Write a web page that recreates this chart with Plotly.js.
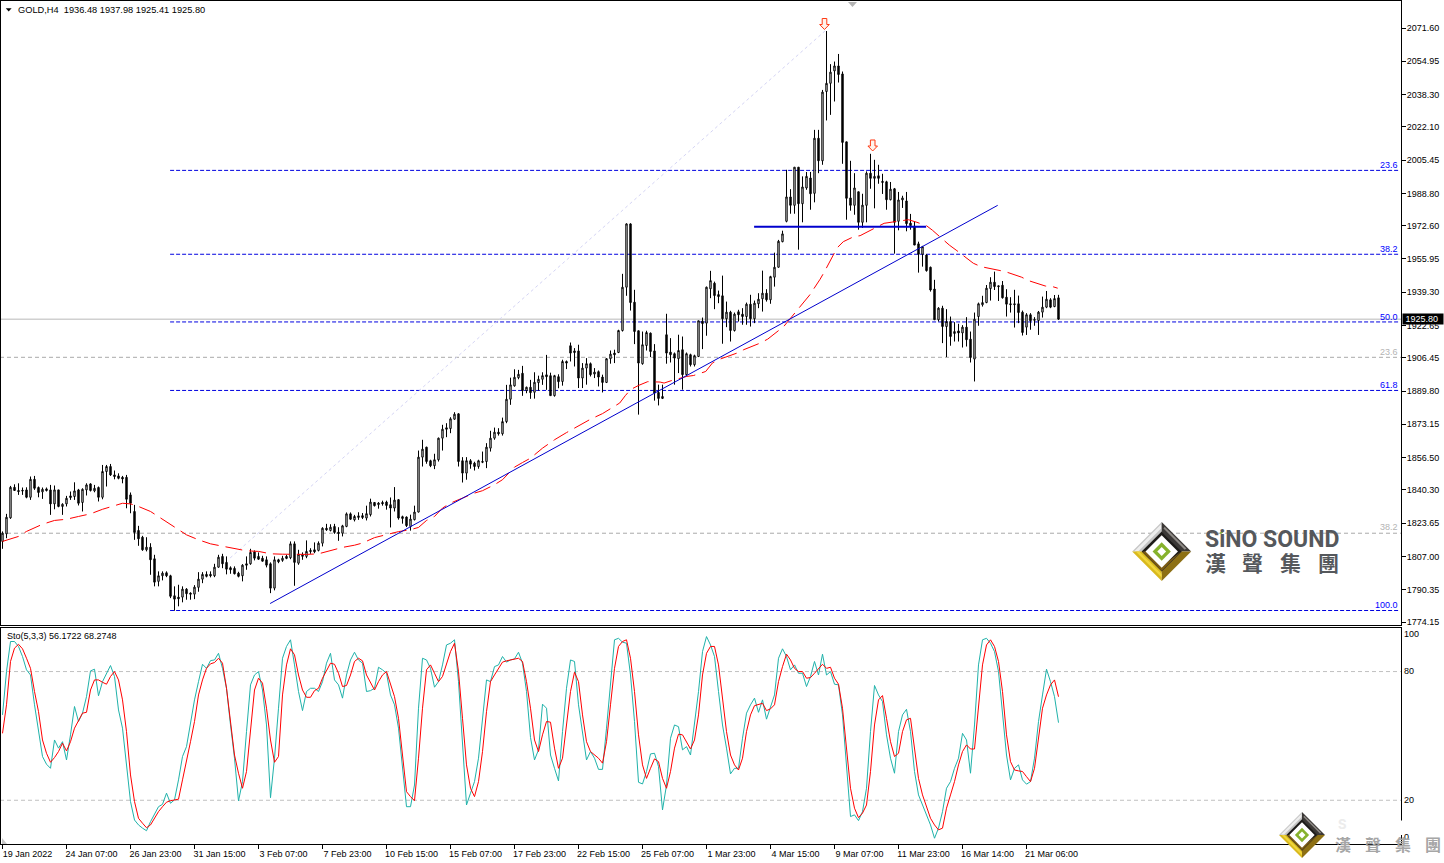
<!DOCTYPE html>
<html><head><meta charset="utf-8">
<script src="https://cdn.plot.ly/plotly-3.0.1.min.js"></script>
<style>html,body{margin:0;padding:0;background:#fff;overflow:hidden}#c{width:1444px;height:863px}</style>
</head><body><div id="c"></div>
<script>
const opens=[1814.5,1818.3,1826.3,1841.6,1840,1840.1,1840.3,1836.6,1845.6,1841.5,1839.3,1840.8,1840.3,1833.3,1840.3,1832,1833.3,1837.3,1837,1840.3,1834,1840.3,1843.3,1839.8,1841.5,1836.6,1849.5,1852,1847.8,1847.3,1846.6,1846.6,1837.8,1829.5,1820,1816.6,1810.3,1811.6,1805.8,1794.5,1797.3,1798.8,1797.3,1787.3,1786.6,1786.6,1790.6,1788.6,1788.1,1791.5,1795.6,1798,1798,1797.3,1801.6,1807,1804,1801.3,1801,1798.6,1797.3,1803.3,1803.3,1809.3,1807,1806.1,1805.3,1803.3,1791.1,1805.3,1805,1807,1806.3,1813.3,1803.6,1807,1807,1810,1810.3,1810,1813.6,1821.1,1820,1822,1819.1,1818.6,1822,1828.3,1825.3,1826.5,
1827.4,1826.2,1827.9,1834,1832.9,1834,1834.2,1832.9,1831.2,1835.4,1826.9,1826.7,1822,1825.4,1829.2,1856.7,1861.7,1854.9,1852.4,1855.4,1866.2,1871.4,1871,1875.7,1878.4,1854.9,1848.7,1854.9,1853.7,1852,1854.5,1854.5,1861.2,1866.2,1869.2,1868.4,1874.5,1885.7,1892.4,1896.5,1898.7,1890,1891.7,1889.2,1894,1895.7,1897.9,1897.5,1887.5,1897,
1894.6,1904.6,1912.5,1909.9,1909.9,1896.3,1901.3,1903.5,1898.3,1899.5,1896.8,1894.1,1906,1908.8,1909.1,1920.1,1941.8,1973.5,1934.3,1920,1903.5,1912.6,1918.8,1909.9,1889.1,1886.1,1918,1909.3,1908.5,1906,1910.5,1898,1908,1903,1907.1,1924.8,1923.8,1941,1943.8,1938.1,1937.5,1926,1929.3,1920.1,1929.5,1928.3,1927.1,1933.3,1926,1933.5,1936,1938.8,1935.5,1946.8,1951.8,1964.6,
1974.8,1987,1982.8,2001.9,1983.6,1991.5,1996.5,1988.8,2016.4,2005.1,2039.8,2043.9,2050.1,2052.6,2048.6,2014.6,1986.5,1982.8,1989.6,1974.3,1982.8,1998.9,1996.3,1997.6,1994.8,1994.6,1985.6,1991.1,1974.8,1985.5,1985,1973.9,1972.4,1963.5,1958.3,1957.9,1951.8,1940.9,1925.5,1931.3,1922.1,1924.6,1918.6,1919.9,1918.9,1921.8,1915.8,1905.8,1927.1,1933,1934.1,1941.1,1944.3,1942.5,1942.8,1936.8,1933.5,1933.5,1933.5,1929.3,1921.8,1928,1925.6,1925.1,1929.3,1931.8,1935.5,1932.1,1936.48];
const highs=[1819.5,1828.3,1842.3,1843.1,1843.6,1841.5,1841.6,1847,1847.3,1842,1841.5,1841.5,1842.8,1842.5,1840.3,1833.6,1837.3,1839.5,1844.1,1840.8,1841.1,1843.6,1843.6,1842.8,1842,1852.8,1852.8,1853.3,1850,1848.6,1847.3,1847.8,1839,1832.8,1822.3,1817.3,1816.6,1813.6,1807.8,1799.5,1799.5,1799.5,1797.8,1792,1792.8,1792,1791.1,1789,1792.6,1799.1,1799.1,1799.5,1799.5,1803.3,1807.8,1808.3,1807,1802,1802,1799.3,1803.1,1807,1810.8,1810,1809,1807.3,1807,1804,1807,1805.8,1807.3,1807.8,1814.5,1814.5,1810.3,1809,1815,1811.1,1814,1814.5,1821.6,1823.3,1823.1,1823.3,1821.6,1822.8,1829,1829,1827.8,1829.1,
1828.7,1832.4,1835.9,1834.2,1834.2,1834.9,1834.9,1836.5,1841.7,1835.7,1827.4,1827,1827.9,1832.4,1860,1865.4,1861.9,1855.4,1858.4,1866.5,1872.9,1873.7,1876.7,1879.2,1878.7,1856.7,1856.7,1855.7,1854.4,1855.4,1859.5,1863.7,1869.9,1871.5,1871.2,1876.5,1892.9,1896.5,1900.7,1900.4,1902.4,1892,1895.4,1899.2,1897.5,1899.2,1907.9,1899,1897.9,1898.2,
1905.5,1905.1,1914.1,1911.3,1913,1903.8,1906.3,1904.1,1901.3,1900.1,1898,1906.3,1910.1,1910.5,1920.5,1948.5,1973.8,1973.8,1940.5,1920,1919.6,1920,1919.1,1913.3,1893,1893,1928.5,1916.3,1909.1,1918,1917.1,1909.1,1908.5,1908,1925,1926.6,1942.1,1950,1944.6,1940.1,1947.6,1934.6,1930,1929.1,1930.5,1931.3,1934.1,1938,1935.1,1938.8,1950.1,1940.8,1947.5,1959.1,1965.5,1970.1,
2000.6,1990.9,2001.9,2001.9,1997.3,1999.5,1999.5,2020.6,2020.6,2040.6,2070.1,2053.5,2054.8,2058.6,2049.8,2014.6,2005.1,1998.9,1989.6,1988.6,1999.8,2008.6,2005.6,2003.1,1998.6,1995.1,1994.5,1991.5,1989.5,1987.6,1989.5,1978.5,1974.6,1964.6,1962.5,1958.3,1952.1,1945.5,1931.8,1932.5,1930.8,1927.1,1924.3,1923.5,1922.8,1926.8,1919.6,1929.1,1934.1,1937.5,1942.9,1946.8,1949.6,1942.6,1944.9,1940.8,1936.8,1940.5,1937.6,1930.1,1928.8,1928.8,1926.8,1929.9,1937.1,1939.9,1936.3,1937.9,1937.98];
const lows=[1810.8,1816.1,1825.8,1839.8,1837.8,1837.8,1836.1,1835.3,1840.3,1836.6,1835.8,1839.5,1827.8,1830.6,1831.6,1827.8,1832,1835.3,1835.3,1832.5,1829.5,1837.5,1839.5,1839.1,1834.5,1835.6,1842,1847.3,1845.6,1845.6,1843.6,1831.1,1828.6,1815.3,1812.3,1809.8,1809.5,1797.8,1792,1792,1795,1796.6,1786.1,1779.8,1782,1784,1785.3,1785.3,1785.6,1789.3,1793.6,1796.5,1796.5,1796.6,1801.3,1801.1,1798,1798.3,1798,1796.5,1794.5,1800.3,1802.8,1805,1805.3,1804.5,1801.5,1788.6,1790,1803.6,1804.3,1805.6,1805.6,1792.3,1802.8,1805.3,1806.1,1808.3,1808.6,1809.5,1812,1819.8,1819.5,1818.3,1814.8,1817,1821.6,1825.3,1824.5,1825.3,
1825.7,1825,1827,1832,1830.9,1832.4,1830.4,1821.5,1829.5,1825.4,1823.4,1821.7,1819.9,1825,1829,1852,1853.4,1851.7,1850.7,1854.5,1860,1866.7,1868.7,1875.4,1852,1844,1845.4,1850.9,1850,1850.9,1853.7,1851.2,1859.5,1865.4,1867.5,1867.5,1873.7,1882.9,1892,1895.7,1887.4,1888.7,1885.9,1886,1890,1892.9,1890.4,1887.5,1887,1891.2,
1892.5,1900.8,1904.6,1902.1,1891.3,1891.3,1893,1897.1,1896.3,1892.1,1889.1,1893.8,1903.5,1903.8,1908.8,1919.6,1937.5,1930.1,1913.3,1878,1903,1910.1,1906.8,1885,1882.6,1885.8,1903.5,1904.1,1893,1898.8,1890.5,1897.1,1902.1,1902.1,1906.8,1910.8,1917.5,1936.3,1930.8,1933.8,1913.5,1921.8,1914.6,1919.6,1924.6,1923,1923,1922.1,1923.8,1931.3,1929.6,1934.6,1933.5,1942.1,1951.6,1964.3,
1974.3,1978.6,1978.6,1960.6,1974.3,1990.6,1980.6,1984.3,1998.9,2003.1,2025.3,2028.1,2034.8,2044.3,2003.6,1975.6,1980.1,1978.1,1970.6,1971.5,1974.3,1991.1,1981.3,1993.6,1988.5,1980.6,1985.3,1958.6,1970.3,1981.5,1969.8,1970.6,1962.9,1949.1,1952.1,1949.6,1939.6,1925.5,1924.6,1913.8,1906.8,1912.5,1914.6,1914.6,1911.6,1912.1,1904.1,1894.6,1922.5,1932.1,1933.8,1935.1,1940.4,1934.9,1936.1,1927.1,1929.1,1921.6,1923.8,1917.6,1917.9,1920.5,1922.5,1917.9,1926.6,1931.3,1931.3,1931.8,1925.41];
const closes=[1818.6,1826.6,1841.6,1840,1839.5,1839.8,1836.6,1845.6,1841.1,1839,1840.6,1840,1833.3,1840.3,1832,1833.1,1836.1,1836.5,1839.8,1833.6,1840.6,1842.8,1840,1841.1,1836.6,1849.5,1852,1847.8,1847,1846.1,1845.8,1835.6,1833.6,1819,1815.8,1810.3,1811.6,1805.3,1794.1,1797.3,1798.6,1797.3,1787,1785.6,1785.8,1790.6,1788.3,1788.1,1791.6,1795.6,1798,1797,1797.3,1801.6,1806.6,1803.3,1800.6,1800.3,1798.3,1797,1802.6,1802.6,1809,1806.1,1805.6,1804.6,1802.6,1791.1,1805.3,1804.3,1806.1,1806,1813.3,1804,1808.1,1807.8,1809.5,1809.5,1809.3,1813.6,1821.1,1820.3,1821.6,1819,1818.5,1822.3,1828.3,1825.6,1827,1827.3,
1826.5,1828.4,1834.2,1832.4,1833.7,1833.4,1832.5,1831.2,1835.2,1826.2,1826,1822.4,1825.7,1829.2,1856.7,1860.7,1854.5,1852.4,1855.4,1866.2,1870.7,1870.7,1875.9,1878.2,1854.5,1848.7,1854.9,1853.2,1852,1854.9,1854.2,1861.7,1866.2,1869.2,1868.4,1874.5,1885.7,1892.9,1896.7,1898.2,1890,1891.7,1889,1894.2,1895.7,1897.5,1897,1887.5,1897.5,1894.5,
1904.6,1903.8,1908.8,1909.1,1896.3,1901.3,1903.5,1898,1899.3,1896.8,1894.1,1906,1908.3,1908,1920.1,1941.8,1973.5,1934.1,1919.6,1903.8,1913,1919.1,1909.6,1888.8,1886.1,1887.1,1908.8,1908,1906.3,1910.1,1898,1908.5,1903,1907.5,1925,1923.6,1941.8,1945.1,1937.6,1937.1,1926,1929.3,1920.1,1928.3,1928,1927.1,1933.3,1926,1933.8,1935.8,1938.8,1935.5,1947.1,1951.8,1964.8,1968.5,
1987,1982.8,2001.9,1983.6,1992,1997.3,1988.6,2016.4,2005.1,2039.5,2043.9,2049.5,2052.6,2048.3,2014.3,1986.3,1982.8,1991.5,1974.3,1982.9,1998.9,1996.3,1997.3,1996.3,1994.3,1985.6,1990.9,1974.3,1985.5,1986.5,1973.6,1972.6,1962.9,1958.3,1962.1,1950.1,1940.4,1925.5,1931.3,1922.1,1924.6,1917.1,1919.6,1918.9,1921.8,1915.5,1906.6,1925.8,1933.5,1934.1,1941.3,1944.3,1942.1,1942.1,1936.5,1933.3,1933.1,1933.1,1929.1,1919.1,1928,1925,1925.3,1929.3,1931.8,1935.8,1931.8,1936.1,1925.8];
const maBars=[0,4,6,10,13,16,19,22,25,28,30,32,34,37,40,43,46,49,52,55,58,61,64,67,70,73,76,79,82,85,88,90,93,96,99,102,104,106,108,110,112,115,118,120,123,125,128,130,132,135,138,141,144,147,150,154.3,155.7,157,159,161.3,164.4,165.4,167.2,171,172.8,175.8,177.5,179.4,183.6,185.3,189.4,191.3,195.3,197.3,200.3,201.8,204.4,205.5,207.8,208.8,210.2,212.8,214.4,218.2,220.4,224.4,226.5,228.6,231,232.5,236.7,238.6,242.7,244.6,248.6,250.7,254.8,256.5,260.7,262.5,263.8];
const maValues=[1814.5,1817,1819.5,1823.1,1825,1825.6,1827,1828.3,1830.6,1832.3,1833.6,1833.3,1832,1829.5,1825.6,1821.6,1817.8,1815.3,1813.3,1812.1,1810.8,1809.8,1809.5,1808.3,1808.1,1808,1808,1808.3,1809.8,1811.5,1812.6,1813.7,1816.4,1818,1819.4,1820.4,1821.5,1825,1827,1831.2,1833.7,1836.2,1838.7,1839.9,1842.9,1845.4,1851.7,1854,1856.2,1861.2,1865.4,1869,1872.5,1875.7,1878.5,1883.8,1887.5,1890.5,1892.6,1894.5,1894.3,1893.8,1895,1897.1,1897.6,1899.6,1903.9,1905.8,1908.8,1910.5,1913.8,1915.8,1922.1,1927,1934.1,1937.9,1945.8,1949.6,1958.3,1961.8,1964.6,1967.1,1967.6,1971.3,1973.8,1975,1975.6,1974.3,1972.6,1970.3,1962.9,1960.1,1953.8,1952.1,1950.5,1949.6,1946.8,1945.1,1942.4,1942.1,1941.3];
const stoK=[59.8,80,94,94,91.7,87,80.8,78.4,64.5,52,40.4,36.8,34.9,48.1,44.3,47.3,38.8,50.5,63.7,56.7,60.6,68.3,80.3,81.1,68.7,75.3,79.2,82.8,77.7,62.1,53.6,34.9,19.4,10.8,8.5,7,5.8,10,13.9,17,18.1,23.3,18.6,20.2,29.5,40.4,45,56.7,66.8,75.3,83.4,81.5,85.1,85.4,88.5,81.5,72.2,55.1,39.6,19.7,28.7,52,73.8,78.4,80,71.4,55.1,21.2,39.6,62.9,86.2,91.7,94.8,83.1,70.7,61.8,70.7,72.2,72.2,70.7,75.3,83.9,88.5,76.1,73.8,67.6,78.4,85.4,89,85.4,83.9,70.7,71.1,72.2,82,80.8,79.2,69.1,64.5,53.6,34.9,17,17,27.1,62.9,86.2,85.4,81.5,72.7,75.3,83.1,92.4,93.2,94.8,75.3,44.3,17.8,23.3,28.7,39.6,56.7,76.1,75.3,82.3,83.1,87,84.4,85.4,85.9,89,83.9,70.7,49.3,38.8,43.5,64.8,62.9,41.1,34.9,29,52,72.2,85.4,84.7,64.5,50.5,38.8,42.7,39.6,34.4,34.4,53.6,75.3,94.8,95.5,93.7,93.2,78.4,56.7,28.4,27.6,33.4,41.6,41.9,35.7,15.5,27.1,48.9,55.1,54.3,43.5,45,41.1,55.1,70.7,89.3,96.3,92.4,87,70.7,55.1,44.3,32.3,34.9,34.9,48.9,60.6,64.5,67.6,61,66.8,57.8,63.7,69.1,86.2,90.6,87,80.8,83.1,79.2,79.2,73,77.7,84.7,78.4,88.1,78.4,80,74.1,73.8,59.8,34.9,12.4,13.2,10.5,14.7,25.6,52,73.5,69.1,66,50.5,39.6,32.6,52,59.8,62.4,52,33.4,22.5,17.8,14,8.5,2.3,7,14.7,25.6,28.7,34.9,39.6,51.2,48.1,32.6,55.1,83.1,94.8,95.5,93.2,89.3,80,59.8,41.1,29.5,34.9,36.5,29.5,27.5,28.7,39.6,56.7,69.1,81.1,75.3,68.3,56.17];
const stoD=[51.2,64.5,84.7,90.9,92.7,90.6,86.2,81.5,70.7,61.3,48.1,41.9,37.7,39.9,42.7,46.6,43,47.3,53.6,57.5,60.6,61,71.4,76.1,76.1,75,74.1,77.7,80,76.1,66.8,52,31.8,19.4,11.6,9.3,7.2,8.5,11.6,14.7,17,19.1,19.8,20.2,20.5,29.5,38,47.3,56.7,69.1,76.1,81.5,83.6,84.2,86.2,83.9,72.2,55.1,41.1,32.6,25.6,33.4,53.6,71.4,76.9,74.6,62.9,48.1,37.7,40.4,69.1,83.1,90.6,87.8,78.4,71.4,68,68,71.1,72.2,76.9,80.8,83.9,83.4,79.2,73,73.5,78.4,84.7,86.2,85,78.4,74.6,71.4,75.3,78.4,80,74.6,68.3,58.2,39.6,24,21.7,19.8,39.6,62.9,80.8,83.1,79.2,75.3,77.7,83.9,89.3,93.2,80,58.2,36.5,25.6,21.7,28.7,42.7,61.3,75.3,78.4,81.5,84.4,85,85.4,85.9,86.2,84.7,75.3,62.9,48.1,42.7,50.5,56.7,56.4,44.3,34.9,39.6,56.7,70.7,79.7,75.3,59.8,47.3,42.7,41.1,39.6,37.3,47.3,64.5,81.5,91.7,94,94.8,86.2,70.7,50.5,36.5,30.2,34.9,39.3,38,30.2,25.6,33.4,44.3,50.8,50.5,47.3,43.9,48.1,59.8,78.4,88.5,91.7,91.7,83.1,67.6,52,41.1,36.5,34.1,39.6,52,59.8,64.1,64.5,65.2,61.8,62.6,64.5,75.3,82.3,88.1,85.4,81.5,80,80,76.9,77.2,79.2,81.5,83.4,81.5,82,76.9,74.1,62.9,44.3,25.6,16.3,11.9,14,17.8,33.4,55.1,66.8,68.8,58.2,47.3,40.4,41.9,52,57.5,58.2,44.3,30.2,22.5,17,11.6,8.5,6.2,7,16.3,22.5,28.7,36.5,42.7,45.8,43.9,43.9,62.9,83.1,92.4,94.8,91.7,84.7,70.7,50.5,38,34.1,33.7,33.4,31,28.7,34.9,48.9,62.9,69.1,73.8,76.1,68.27];
const priceTicks=[2071.60,2054.95,2038.30,2022.10,2005.45,1988.80,1972.60,1955.95,1939.30,1922.65,1906.45,1889.80,1873.15,1856.50,1840.30,1823.65,1807.00,1790.35,1774.15];
const dateLabels=["19 Jan 2022","24 Jan 07:00","26 Jan 23:00","31 Jan 15:00","3 Feb 07:00","7 Feb 23:00","10 Feb 15:00","15 Feb 07:00","17 Feb 23:00","22 Feb 15:00","25 Feb 07:00","1 Mar 23:00","4 Mar 15:00","9 Mar 07:00","11 Mar 23:00","16 Mar 14:00","21 Mar 06:00"];
const blueFibLevels=[2000.3,1958.3,1924.4,1890.1,1779.9];
const blueFibNames=["23.6","38.2","50.0","61.8","100.0"];
const grayFibLevels=[1906.7,1818.6];
const grayFibNames=["23.6","38.2"];

const W=1444,H=863,F='"Liberation Sans",Arial,sans-serif',CJK='"Noto Sans CJK TC",sans-serif';
const bars=opens.map((_,i)=>i);
const px=x=>x/W, py=y=>1-y/H;
const pxToPrice=y=>2071.6-(y-28)*0.50076;
const path=(pts)=>'M'+pts.map(p=>px(p[0]).toFixed(5)+','+py(p[1]).toFixed(5)).join('L')+'Z';
const poly=(pts,fill,line,lw)=>({type:'path',xref:'paper',yref:'paper',path:path(pts),fillcolor:fill,line:{color:line||fill,width:lw===undefined?0:lw},layer:'above'});
const ann=(x,y,text,o={})=>Object.assign({xref:'paper',yref:'paper',x:px(x),y:py(y),text,showarrow:false,xanchor:'left',yanchor:'middle',borderpad:0,font:{family:F,size:9,color:'#000'}},o);

const shapes=[];
const hline=(x0,x1,y,color,dash,width)=>shapes.push({type:'line',xref:'x',yref:'y',x0,x1,y0:y,y1:y,line:{color,width:width||1,dash:dash||'solid'},layer:'below'});
grayFibLevels.forEach(v=>hline(-0.625,349.7,v,'#a9a9a9','4px,3px'));
blueFibLevels.forEach(v=>hline(41.9,349.4,v,'#0000e0','4px,2px'));
hline(-0.625,349.7,1925.8,'#b8b8b8');
shapes.push({type:'line',xref:'x',yref:'y',x0:56.9,y0:1806.2,x1:205.9,y1:2070.6,line:{color:'#d4d4f4',width:1,dash:'3px,3px'},layer:'below'});
shapes.push({type:'line',xref:'x',yref:'y',x0:66.9,y0:1783.4,x1:248.8,y1:1982.8,line:{color:'#0000cd',width:1},layer:'above'});
shapes.push({type:'line',xref:'x',yref:'y',x0:187.9,y0:1972.1,x1:230.9,y1:1972.1,line:{color:'#0000cd',width:2},layer:'above'});
[80,20].forEach(v=>shapes.push({type:'line',xref:'x2',yref:'y2',x0:-0.625,x1:349.7,y0:v,y1:v,line:{color:'#c0c0c0',width:1,dash:'4px,3px'},layer:'below'}));

// red sell arrows
const arrow=(cx,top,bot)=>poly([[cx-2.3,top],[cx+2.3,top],[cx+2.3,top+6],[cx+4.8,top+6],[cx,bot],[cx-4.8,top+6],[cx-2.3,top+6]],'#fff4ec','#ff3a14',1);
shapes.push(arrow(824.5,18.5,29.5),arrow(872.7,140,151));
// small markers
shapes.push(poly([[848,2],[857,2],[852.5,7]],'#b4b4b4'));
shapes.push(poly([[2,838],[7,844],[2,844]],'#c8c8c8'));
shapes.push(poly([[5.8,8.3],[11.6,8.3],[8.7,11.5]],'#000'));
// white gap in the lower right axis line
shapes.push({type:'rect',xref:'paper',yref:'paper',x0:px(1399.5),x1:px(1402.5),y0:py(835),y1:py(820.5),fillcolor:'#fff',line:{width:0},layer:'above'});

function diamond(cx,cy,r){
  const d=(k)=>[[cx-r*k,cy],[cx,cy-r*k],[cx+r*k,cy],[cx,cy+r*k]];
  const T=[cx,cy-r],L=[cx-r,cy],R=[cx+r,cy],B=[cx,cy+r];
  const k=.66,t=[cx,cy-r*k],l=[cx-r*k,cy],rr=[cx+r*k,cy],b=[cx,cy+r*k];
  shapes.push(poly([L,T,t,l],'#c4c4c4'));
  shapes.push(poly([[cx-r*.92,cy-r*.02],[cx-r*.02,cy-r*.92],[cx-r*.02,cy-r*.78],[cx-r*.78,cy-r*.02]],'#eeeeee'));
  shapes.push(poly([T,R,rr,t],'#3b3836'));
  shapes.push(poly([[cx+r*.1,cy-r*.84],[cx+r*.84,cy-r*.1],[cx+r*.78,cy-r*.06],[cx+r*.06,cy-r*.78]],'#8c8884'));
  shapes.push(poly([L,B,b,l],'#d9b91e'));
  shapes.push(poly([B,R,rr,b],'#8d7014'));
  shapes.push(poly([[cx-r*.88,cy],[cx,cy+r*.88],[cx,cy+r*.76],[cx-r*.76,cy]],'#f0d63c'));
  shapes.push(poly(d(.68),'#1c1a18'));
  shapes.push(poly([[cx-r*.66,cy],[cx,cy+r*.66],[cx+r*.66,cy],[cx,cy+r*.5],[cx-r*.5,cy]],'#7a5a14'));
  shapes.push(poly(d(.55),'#ffffff'));
  shapes.push(poly(d(.31),'#86b22c'));
  shapes.push(poly(d(.15),'#ffffff'));
}
diamond(1161.7,551.5,29.5);
diamond(1302,835,23);
shapes.push(poly([[1219.5,533],[1222.5,530.5],[1223,532.5],[1220.5,534]],'#86b22c'));

const annotations=[
 ann(17,9.7,'GOLD,H4\u00a0\u00a01936.48 1937.98 1925.41 1925.80',{font:{family:F,size:9.25,color:'#000'}}),
 ann(6,636,'Sto(5,3,3) 56.1722 68.2748'),
 ann(1403,634.3,'100'),ann(1403,671.3,'80'),ann(1403,800.3,'20'),ann(1403,837.3,'0'),
 ann(1402,319.5,'\u00a01925.80\u00a0\u00a0',{bgcolor:'#000',font:{family:F,size:9,color:'#fff'}}),
 ann(1204,539,'SiNO SOUND',{font:{family:'Roboto,sans-serif',size:23,color:'#55585c',weight:700}}),
 ann(1342,824,'S',{xanchor:'center',font:{family:'Inter,sans-serif',size:13,color:'#ececec',weight:700}})
];
const fibY=[165,249,317,385,605], grayY=[352,527];
blueFibNames.forEach((t,i)=>annotations.push(ann(1399,fibY[i],t,{xanchor:'right',font:{family:F,size:9,color:'#0000ff'}})));
grayFibNames.forEach((t,i)=>annotations.push(ann(1399,grayY[i],t,{xanchor:'right',font:{family:F,size:9,color:'#b4b4b4'}})));
[..."漢聲集團"].forEach((c,i)=>{
  annotations.push(ann([1215,1252.7,1290.7,1328.7][i],562,c,{xanchor:'center',font:{family:CJK,size:21,color:'#55585c',weight:700}}));
  annotations.push(ann([1343,1373,1403,1433][i],844,c,{xanchor:'center',font:{family:CJK,size:16,color:'#a6a6a6',weight:700}}));
});

const traces=[
 {type:'candlestick',x:bars,open:opens,high:highs,low:lows,close:closes,xaxis:'x',yaxis:'y',whiskerwidth:0,hoverinfo:'skip',
  increasing:{line:{color:'#000',width:1},fillcolor:'#fff'},decreasing:{line:{color:'#000',width:1},fillcolor:'#000'}},
 {type:'scatter',mode:'lines',x:maBars,y:maValues,xaxis:'x',yaxis:'y',hoverinfo:'skip',line:{color:'#ff0000',width:1,dash:'17px,7px'}},
 {type:'scatter',mode:'lines',x:bars,y:stoK,xaxis:'x2',yaxis:'y2',hoverinfo:'skip',line:{color:'#20b2aa',width:1}},
 {type:'scatter',mode:'lines',x:bars,y:stoD,xaxis:'x2',yaxis:'y2',hoverinfo:'skip',line:{color:'#ff0000',width:1}}
];
const xRange=[(1-2.5)/4,(1401-2.5)/4], xDom=[1/W,1401/W];
const frame={showline:true,linecolor:'#000',linewidth:1,mirror:true,showgrid:false,zeroline:false};
const layout={width:W,height:H,margin:{l:0,r:0,t:0,b:0},paper_bgcolor:'#fff',plot_bgcolor:'#fff',showlegend:false,boxgap:0.5,boxmode:'overlay',
 font:{family:F,size:9,color:'#000'},hovermode:false,dragmode:false,
 xaxis:Object.assign({},frame,{domain:xDom,range:xRange,anchor:'y',showticklabels:false,ticks:'',rangeslider:{visible:false}}),
 xaxis2:Object.assign({},frame,{domain:xDom,range:xRange,anchor:'y2',ticks:'outside',ticklen:4,tickcolor:'#000',tickwidth:1,tickmode:'array',
   tickvals:dateLabels.map((_,i)=>i*16),ticktext:dateLabels,ticklabelshift:25,ticklabelstandoff:-3,tickangle:0,tickfont:{family:F,size:9,color:'#000'}}),
 yaxis:Object.assign({},frame,{domain:[1-625/H,1-1/H],range:[pxToPrice(625),pxToPrice(1)],anchor:'x',side:'right',ticks:'outside',ticklen:4,tickcolor:'#000',tickwidth:1,tickmode:'array',ticklabelstandoff:-1,
   tickvals:priceTicks,ticktext:priceTicks.map(v=>v.toFixed(2)),tickfont:{family:F,size:9,color:'#000'}}),
 yaxis2:Object.assign({},frame,{domain:[1-844/H,1-628/H],range:[-0.39,100.3],anchor:'x2',side:'right',ticks:'',showticklabels:false}),
 shapes,annotations};
Plotly.newPlot('c',traces,layout,{staticPlot:true,displayModeBar:false});
</script></body></html>
